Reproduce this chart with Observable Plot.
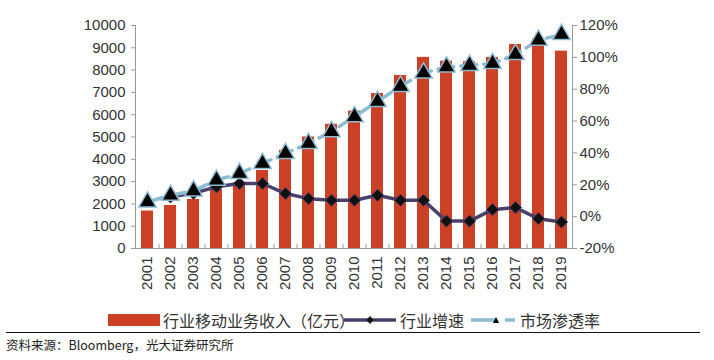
<!DOCTYPE html>
<html><head><meta charset="utf-8">
<script src="https://cdn.jsdelivr.net/npm/d3@7"></script>
<script src="https://cdn.jsdelivr.net/npm/@observablehq/plot@0.6"></script>
<style>
body{margin:0;background:#fff;font-family:"Liberation Sans","Noto Sans CJK SC",sans-serif;}
#wrap{width:714px;height:360px;position:relative;overflow:hidden;}
#legend{position:absolute;top:309px;left:0;width:714px;height:22px;font-size:16px;color:#333;font-family:"Liberation Sans","Noto Sans CJK SC",sans-serif;}
#legend .it{position:absolute;top:0;display:flex;align-items:center;height:22px;}
#rule{position:absolute;left:6px;width:694px;top:332px;border-top:1.5px solid #111;}
#src{position:absolute;left:6px;top:335px;font-size:12.5px;color:#222;font-family:"Noto Sans CJK SC",sans-serif;}
</style></head>
<body><div id="wrap"><div id="chart"></div>
<div id="legend"></div><div id="rule"></div><div id="src">资料来源：Bloomberg，光大证券研究所</div></div>
<script>
const years = ["2001","2002","2003","2004","2005","2006","2007","2008","2009","2010","2011","2012","2013","2014","2015","2016","2017","2018","2019"];
const revenue = [1680,1930,2200,2650,2950,3500,4400,5000,5570,6160,6950,7760,8570,8400,8380,8570,9150,9400,8850];
const growth = [null,12.4,14.7,18.7,20.8,20.8,14.5,11.3,10.3,10.3,13.4,10.3,10.3,-2.8,-2.8,4.4,5.7,-1.3,-3.4];
const penetration = [9.2,13.4,16.2,22.9,27.1,33.4,39.7,46,53.4,62.8,72.3,81.8,90.2,94,95,96.1,101.8,110.8,114.4];
const leftTicks = [0,1000,2000,3000,4000,5000,6000,7000,8000,9000,10000];
const pctTicks = [-20,0,20,40,60,80,100,120];
const seriesNames = ["行业移动业务收入（亿元）","行业增速","市场渗透率"];

const barColor = "#cc4125", growthColor = "#4a3f6b", penColor = "#8dbbd0";
const toY = p => (p + 20) / 140 * 10000;
const fromY = v => Math.round(v / 10000 * 140 - 20);

const data = years.map((y,i)=>({year:y, revenue:revenue[i], growth:growth[i], pen:penetration[i]}));
const gData = data.filter(d=>d.growth!=null);

const chart = Plot.plot({
  width:714, height:305,
  marginLeft:135, marginRight:142, marginTop:25, marginBottom:57,
  style:{fontFamily:"Liberation Sans, Arial, sans-serif", fontSize:"15px", color:"#333", background:"#fff"},
  x:{type:"band", domain:years, paddingInner:0.5, paddingOuter:0.25},
  y:{domain:[0,10000]},
  marks:[
    Plot.barY(data,{x:"year", y:"revenue", fill:barColor}),
    Plot.frame({anchor:"left", stroke:"#999"}),
    Plot.frame({anchor:"right", stroke:"#999"}),
    Plot.frame({anchor:"bottom", stroke:"#999"}),
    Plot.ruleX(years.slice(1),{x:d=>d, dx:-11.5, y1:0, y2:180, stroke:"#999"}),
    Plot.axisY(leftTicks,{anchor:"left", tickFormat:d=>String(d), tickSize:4, tickPadding:6, fontSize:15, label:null, stroke:"#999", fill:"#333"}),
    Plot.axisY(pctTicks.map(toY),{anchor:"right", tickFormat:v=>fromY(v)+"%", tickSize:4, tickPadding:3, fontSize:15, label:null, stroke:"#999", fill:"#333"}),
    Plot.axisX({tickSize:0, tickRotate:-90, tickPadding:8, fontSize:15, label:null, fill:"#333"}),
    Plot.line(gData,{x:"year", y:d=>toY(d.growth), stroke:growthColor, strokeWidth:3.5}),
    Plot.line(data,{x:"year", y:d=>toY(d.pen), stroke:penColor, strokeWidth:3.5, strokeDasharray:"16,7"}),
    Plot.dot(gData,{x:"year", y:d=>toY(d.growth), symbol:"diamond2", r:5.5, fill:"#111", stroke:growthColor, strokeWidth:1}),
    Plot.dot(data,{x:"year", y:d=>toY(d.pen), symbol:"triangle", r:6.5, fill:"#000", stroke:penColor, strokeWidth:1.5})
  ]
});
document.getElementById("chart").appendChild(chart);

const lg = document.getElementById("legend");
lg.innerHTML = `
<div class="it" style="left:108px"><svg width="52" height="14"><rect x="0" y="1" width="52" height="12" fill="${barColor}"/></svg><span style="margin-left:3px">${seriesNames[0]}</span></div>
<div class="it" style="left:344px"><svg width="54" height="14"><line x1="0" y1="7" x2="52" y2="7" stroke="${growthColor}" stroke-width="3.5"/><path d="M26,3 L29.5,7 L26,11 L22.5,7Z" fill="#111"/></svg><span style="margin-left:2px">${seriesNames[1]}</span></div>
<div class="it" style="left:471px"><svg width="46" height="14"><line x1="0" y1="7" x2="25" y2="7" stroke="${penColor}" stroke-width="3.5"/><path d="M25,4 L28,10 L22,10Z" fill="#000"/><line x1="34" y1="7" x2="44" y2="7" stroke="${penColor}" stroke-width="3.5"/></svg><span style="margin-left:3px">${seriesNames[2]}</span></div>`;
</script></body></html>
